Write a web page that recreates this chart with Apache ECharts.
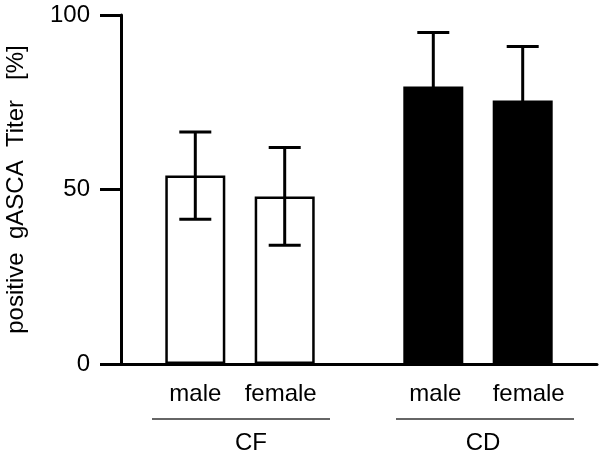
<!DOCTYPE html>
<html>
<head>
<meta charset="utf-8">
<script src="https://cdn.jsdelivr.net/npm/echarts@6/dist/echarts.min.js"></script>
<style>html,body{margin:0;padding:0;background:#fff}#c{width:600px;height:455px}</style>
</head>
<body>
<div id="c"></div>
<script>
// ---- data ----
var groups = ['CF', 'CD'];
var sexes = ['male', 'female'];
var maleMean = [54, 79.5];
var femaleMean = [48, 75.5];
var maleErr = [12.5, 15.5];
var femaleErr = [14, 15.5];
var yTicks = [0, 50, 100];

var FONT = 'Liberation Sans, Arial, sans-serif';
var BAR_W = 60, BAR_GAP = '49%';
var labelShift = { male: [0, 2], female: [-4, 6] };

function styleFor(gi) {
  return gi === 0
    ? { color: '#ffffff', borderColor: '#000', borderWidth: 2.5 }
    : { color: '#000000', borderColor: '#000', borderWidth: 0 };
}
function barData(means, sex) {
  return means.map(function (v, gi) {
    return { value: v, itemStyle: styleFor(gi), label: { offset: [labelShift[sex][gi], 0] } };
  });
}
var errData = [];
groups.forEach(function (g, gi) {
  errData.push([gi, 0, maleMean[gi], maleErr[gi]]);
  errData.push([gi, 1, femaleMean[gi], femaleErr[gi]]);
});

var chart = echarts.init(document.getElementById('c'), null, { renderer: 'canvas' });
var barLabel = {
  show: true, position: 'bottom', distance: 18,
  fontFamily: FONT, fontSize: 24, color: '#000',
  formatter: function (p) { return p.seriesName; }
};
var grpText = { fontFamily: FONT, fontSize: 24, color: '#000' };
chart.setOption({
  animation: false,
  backgroundColor: '#fff',
  textStyle: { fontFamily: FONT },
  grid: { left: 121, right: 3, top: 15, bottom: 91, containLabel: false, outerBoundsMode: 'none' },
  xAxis: {
    type: 'category', data: groups,
    axisLine: { lineStyle: { color: '#000', width: 3 } },
    axisTick: { show: false },
    axisLabel: {
      fontFamily: FONT, fontSize: 24, color: '#000', margin: 67,
      formatter: function (v) { return v === 'CF' ? '{a|' + v + '}' : '{b|' + v + '}'; },
      rich: {
        a: Object.assign({ padding: [0, 0, 0, 22] }, grpText),
        b: Object.assign({ padding: [0, 0, 0, 10] }, grpText)
      }
    },
    splitLine: { show: false }
  },
  yAxis: {
    type: 'value', min: 0, max: 100, interval: 50,
    name: 'positive  gASCA  Titer   [%]', nameLocation: 'middle', nameGap: 93,
    nameTextStyle: { fontFamily: FONT, fontSize: 24, color: '#000' },
    axisLine: { show: true, lineStyle: { color: '#000', width: 3 } },
    axisTick: { show: true, length: 21, lineStyle: { color: '#000', width: 3 } },
    axisLabel: { fontFamily: FONT, fontSize: 24, color: '#000', margin: 31,
      formatter: function (v) { return yTicks.indexOf(v) >= 0 ? String(v) : ''; } },
    splitLine: { show: false }
  },
  series: [
    { name: sexes[0], type: 'bar', barWidth: BAR_W, barGap: BAR_GAP, data: barData(maleMean, 'male'), label: barLabel, z: 2 },
    { name: sexes[1], type: 'bar', barWidth: BAR_W, barGap: BAR_GAP, data: barData(femaleMean, 'female'), label: barLabel, z: 2 },
    {
      type: 'custom', z: 5, data: errData, encode: { x: 0, y: 2 },
      renderItem: function (params, api) {
        var gi = api.value(0), si = api.value(1), m = api.value(2), e = api.value(3);
        var layout = api.barLayout({ barWidth: BAR_W, barGap: BAR_GAP, count: 2 });
        var x = api.coord([gi, 0])[0] + layout[si].offsetCenter;
        var yHi = api.coord([gi, m + e])[1];
        var yLo = api.coord([gi, m - e])[1];
        var half = 16;
        var st = { stroke: '#000', lineWidth: 3 };
        return {
          type: 'group',
          children: [
            { type: 'line', shape: { x1: x, y1: yHi, x2: x, y2: yLo }, style: st },
            { type: 'line', shape: { x1: x - half, y1: yHi, x2: x + half, y2: yHi }, style: st },
            { type: 'line', shape: { x1: x - half, y1: yLo, x2: x + half, y2: yLo }, style: st }
          ]
        };
      }
    }
  ]
});

// group underline rules, positioned from the category axis
var lines = groups.map(function (g, gi) {
  var cx = chart.convertToPixel({ xAxisIndex: 0 }, g);
  var y0 = chart.convertToPixel({ yAxisIndex: 0 }, 0);
  return {
    type: 'line',
    shape: { x1: cx - 88 + gi * 6, y1: y0 + 55, x2: cx + 90 + gi * 6, y2: y0 + 55 },
    style: { stroke: '#333', lineWidth: 1.3 }
  };
});
chart.setOption({ graphic: lines });
</script>
</body>
</html>
